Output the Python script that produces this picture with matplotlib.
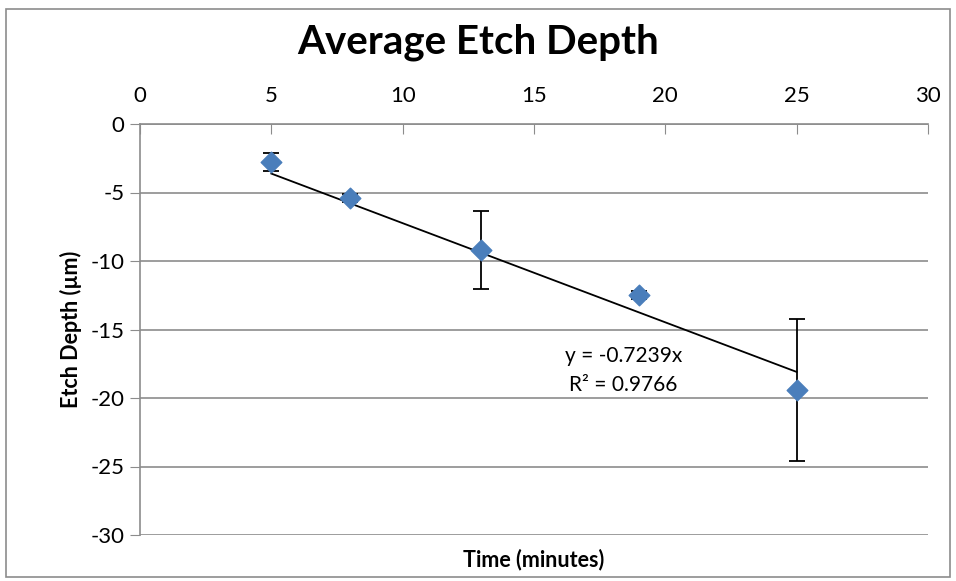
import numpy as np
import matplotlib
matplotlib.use("Agg")
import matplotlib.pyplot as plt
from matplotlib.patches import Rectangle

time_min = [5, 8, 13, 19, 25]
depth_um = [-2.8, -5.4, -9.2, -12.5, -19.4]
depth_err = [0.65, 0.3, 2.85, 0.3, 5.2]
slope = -0.7239
r2 = 0.9766

plt.rcParams["font.family"] = ["Lato", "DejaVu Sans"]
plt.rcParams["axes.unicode_minus"] = False
grid_col = "#8c8c8c"

fig = plt.figure(figsize=(9.56, 5.81), dpi=100)
ax = fig.add_axes([140/956, 1 - 535/581, (928-140)/956, (535-124)/581])

ax.set_xlim(0, 30)
ax.set_ylim(-30, 0)
ax.set_xticks(range(0, 31, 5))
ax.set_yticks(range(-30, 1, 5))
ax.yaxis.grid(True, color=grid_col, linewidth=1.2)
ax.set_axisbelow(True)

for s in ["right", "bottom"]:
    ax.spines[s].set_visible(False)
ax.spines["top"].set_color(grid_col)
ax.spines["left"].set_color(grid_col)
ax.spines["top"].set_linewidth(1.2)
ax.spines["left"].set_linewidth(1.2)

ax.xaxis.tick_top()
ax.tick_params(axis="x", direction="in", length=7, color=grid_col, labelsize=16, pad=13)
ax.tick_params(axis="y", direction="out", length=7, color=grid_col, labelsize=16, pad=4)

# trendline
xs = np.array([min(time_min), max(time_min)])
ax.plot(xs, slope * xs, color="black", linewidth=1.3, zorder=2)

ax.errorbar(time_min, depth_um, yerr=depth_err, fmt="none", ecolor="black",
            elinewidth=1.3, capsize=6, capthick=1.3, zorder=3)
ax.scatter(time_min, depth_um, marker="D", s=110, color="#4a7ebb", zorder=4)

ax.text(18.4, -18.0, f"y = {slope}x\nR² = {r2}", ha="center", va="center",
        fontsize=15, linespacing=1.55)

ax.set_xlabel("Time (minutes)", fontsize=15.5, fontweight="bold")
ax.xaxis.set_label_position("bottom")
ax.xaxis.labelpad = 10
ax.set_ylabel("Etch Depth (µm)", fontsize=15.5, fontweight="bold", labelpad=6)

fig.text(0.5, 1 - 42/581, "Average Etch Depth", ha="center", va="center",
         fontsize=29, fontweight="bold")

fig.patches.append(Rectangle((6/956, 1 - 577/581), 944/956, 568/581,
                             transform=fig.transFigure, fill=False,
                             edgecolor=grid_col, linewidth=1.2))

fig.savefig("out.png", dpi=100)
